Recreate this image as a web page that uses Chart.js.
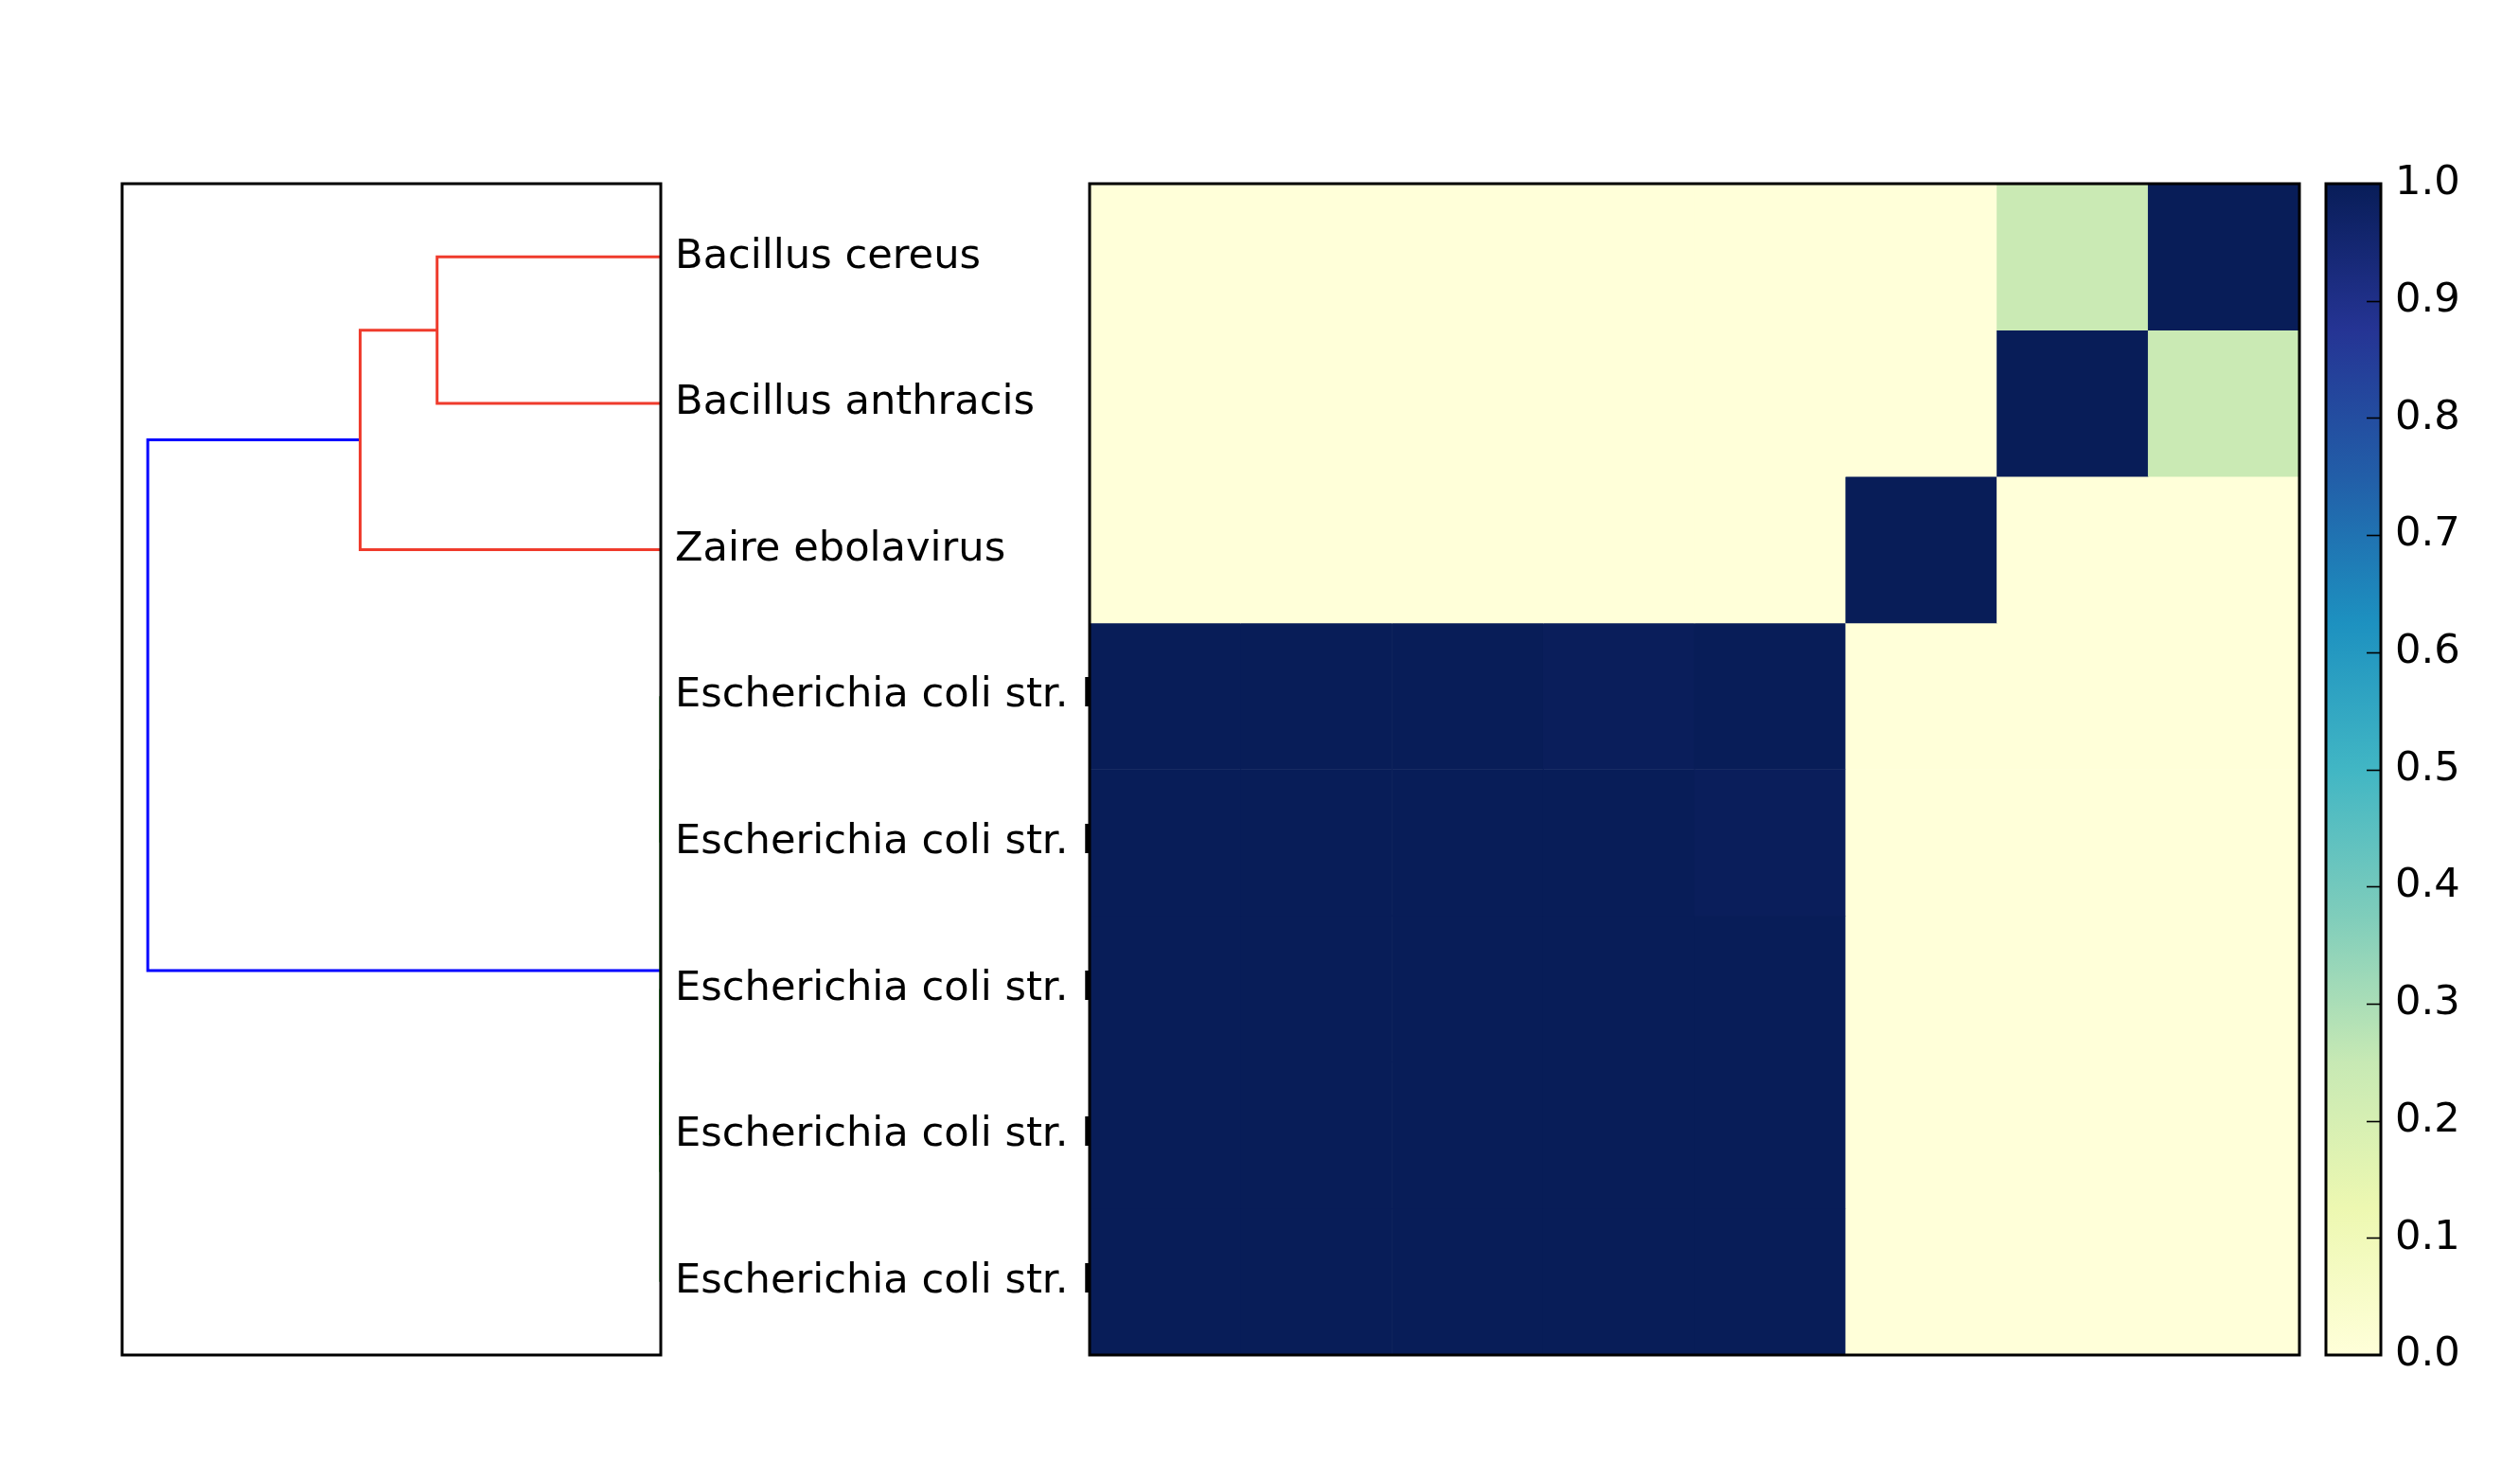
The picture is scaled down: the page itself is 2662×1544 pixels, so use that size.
<!DOCTYPE html>
<html>
<head>
<meta charset="utf-8">
<script src="https://cdn.jsdelivr.net/npm/chart.js@4.4.1/dist/chart.umd.min.js"></script>
<style>
  html, body { margin: 0; padding: 0; background: #ffffff; }
  body { width: 2662px; height: 1544px; position: relative; overflow: hidden; }
  canvas { position: absolute; top: 0; }
  #dendro { left: 0px; }
  #heat { left: 1140px; }
  #cbar { left: 2440px; }
</style>
</head>
<body>
<canvas id="dendro" width="1400" height="1544"></canvas>
<canvas id="heat" width="1300" height="1544"></canvas>
<canvas id="cbar" width="222" height="1544"></canvas>
<script>
// ---------------- data ----------------
const leafLabels = [
  "Bacillus cereus",
  "Bacillus anthracis",
  "Zaire ebolavirus",
  "Escherichia coli str. K-12 substr. MG1655",
  "Escherichia coli str. K-12 substr. DH10B",
  "Escherichia coli str. K-12 substr. W3110",
  "Escherichia coli str. K-12 substr. MDS42",
  "Escherichia coli str. K-12 substr. BW2952"
];
const leafPositions = [0.5, 1.5, 2.5, 3.5, 4.5, 5.5, 6.5, 7.5];

// dendrogram links (scipy-like dcoord / icoord, orientation left)
const linkDist = [
  [0, 0.436, 0.436, 0],
  [0.436, 0.586, 0.586, 0],
  [0, 0, 0, 0],
  [0, 0, 0, 0],
  [0, 0, 0, 0],
  [0, 0, 0, 0],
  [0.586, 1.0, 1.0, 0]
];
const linkPos = [
  [0.5, 0.5, 1.5, 1.5],
  [1.0, 1.0, 2.5, 2.5],
  [3.5, 3.5, 4.5, 4.5],
  [5.5, 5.5, 6.5, 6.5],
  [6.0, 6.0, 7.5, 7.5],
  [4.0, 4.0, 6.75, 6.75],
  [1.75, 1.75, 5.375, 5.375]
];
const linkColors = ["#ef3b2c", "#ef3b2c", "#008000", "#008000", "#008000", "#008000", "#0000ff"];

// heatmap rows (top to bottom), columns left to right
const rowBacillusCereus   = [0, 0, 0, 0, 0, 0, 0.24, 1];
const rowBacillusAnthracis= [0, 0, 0, 0, 0, 0, 1, 0.24];
const rowZaireEbolavirus  = [0, 0, 0, 0, 0, 1, 0, 0];
const rowEcoli1           = [1, 1, 1, 0.993, 1, 0, 0, 0];
const rowEcoli2           = [1, 1, 1, 1, 0.993, 0, 0, 0];
const rowEcoli3           = [1, 1, 1, 1, 1, 0, 0, 0];
const rowEcoli4           = [1, 1, 1, 1, 1, 0, 0, 0];
const rowEcoli5           = [1, 1, 1, 1, 1, 0, 0, 0];
const heatColumns = ["c1", "c2", "c3", "c4", "c5", "c6", "c7", "c8"];

// colorbar
const cbTickValues = [0.0, 0.1, 0.2, 0.3, 0.4, 0.5, 0.6, 0.7, 0.8, 0.9, 1.0];
const cbTickLabels = ["0.0", "0.1", "0.2", "0.3", "0.4", "0.5", "0.6", "0.7", "0.8", "0.9", "1.0"];

// YlGnBu colormap
const ylgnbuStops = ["#ffffd9", "#edf8b1", "#c7e9b4", "#7fcdbb", "#41b6c4", "#1d91c0", "#225ea8", "#253494", "#081d58"];

// ---------------- helpers ----------------
function hexToRgb(h) {
  return [parseInt(h.slice(1, 3), 16), parseInt(h.slice(3, 5), 16), parseInt(h.slice(5, 7), 16)];
}
function cmap(v) {
  v = Math.max(0, Math.min(1, v));
  const n = ylgnbuStops.length - 1;
  const p = v * n;
  const i = Math.min(Math.floor(p), n - 1);
  const t = p - i;
  const a = hexToRgb(ylgnbuStops[i]), b = hexToRgb(ylgnbuStops[i + 1]);
  const c = a.map((x, k) => Math.round(x + (b[k] - x) * t));
  return `rgb(${c[0]},${c[1]},${c[2]})`;
}

const FONT = { family: "'DejaVu Sans', sans-serif", size: 43.2 };

const frame = {
  id: 'frame',
  afterDatasetsDraw(chart) {
    const { ctx, chartArea: a } = chart;
    ctx.save();
    ctx.strokeStyle = '#000';
    ctx.lineWidth = 3;
    ctx.strokeRect(a.left, a.top, a.right - a.left, a.bottom - a.top);
    ctx.restore();
  }
};

Chart.defaults.font.family = FONT.family;
Chart.defaults.color = '#000';

// ---------------- dendrogram ----------------
const dendroDatasets = linkDist.map((d, i) => ({
  data: d.map((x, k) => ({ x: x, y: linkPos[i][k] })),
  showLine: true,
  borderColor: linkColors[i],
  borderWidth: 3,
  pointRadius: 0,
  tension: 0,
  fill: false
}));

new Chart(document.getElementById('dendro'), {
  type: 'scatter',
  data: { datasets: dendroDatasets },
  options: {
    responsive: false,
    animation: false,
    devicePixelRatio: 1,
    layout: { padding: { left: 129, top: 194, bottom: 113, right: 0 } },
    plugins: { legend: { display: false }, tooltip: { enabled: false } },
    scales: {
      x: { type: 'linear', min: 0, max: 1.05, reverse: true, display: false },
      y: {
        type: 'linear', min: 0, max: 8, reverse: true, position: 'right',
        grid: { display: false, drawTicks: false },
        border: { display: false },
        afterBuildTicks: (s) => { s.ticks = leafPositions.map(v => ({ value: v })); },
        afterFit: (s) => { s.width = 702; },
        ticks: {
          autoSkip: false,
          padding: 15,
          font: FONT,
          color: '#000',
          callback: (v, i) => leafLabels[i]
        }
      }
    }
  },
  plugins: [frame]
});

// ---------------- heatmap ----------------
const heatRows = [rowBacillusCereus, rowBacillusAnthracis, rowZaireEbolavirus, rowEcoli1, rowEcoli2, rowEcoli3, rowEcoli4, rowEcoli5];
const heatDatasets = heatRows.map((row) => ({
  data: row.map(() => 1),
  backgroundColor: (ctx) => cmap(row[ctx.dataIndex]),
  borderWidth: 0,
  barPercentage: 1.0,
  categoryPercentage: 1.0
}));

new Chart(document.getElementById('heat'), {
  type: 'bar',
  data: { labels: heatColumns, datasets: heatDatasets },
  options: {
    responsive: false,
    animation: false,
    devicePixelRatio: 1,
    layout: { padding: { left: 11, right: 11, top: 194, bottom: 113 } },
    plugins: { legend: { display: false }, tooltip: { enabled: false } },
    scales: {
      x: { stacked: true, display: false },
      y: { stacked: true, min: 0, max: 8, reverse: true, display: false }
    }
  },
  plugins: [frame]
});

// ---------------- colorbar ----------------
const cbTicksPlugin = {
  id: 'cbTicks',
  afterDatasetsDraw(chart) {
    const { ctx, chartArea: a } = chart;
    const ys = chart.scales.y;
    ctx.save();
    ctx.strokeStyle = '#000';
    ctx.lineWidth = 1.6;
    cbTickValues.forEach(v => {
      if (v <= 0 || v >= 1) return;
      const y = Math.round(ys.getPixelForValue(v)) + 0.5;
      ctx.beginPath();
      ctx.moveTo(a.right - 15, y);
      ctx.lineTo(a.right, y);
      ctx.stroke();
    });
    ctx.restore();
  }
};

new Chart(document.getElementById('cbar'), {
  type: 'bar',
  data: {
    labels: ['cb'],
    datasets: [{
      data: [[cbTickValues[0], cbTickValues[cbTickValues.length - 1]]],
      borderWidth: 0,
      barPercentage: 1.0,
      categoryPercentage: 1.0,
      backgroundColor: (ctx) => {
        const ch = ctx.chart;
        const a = ch.chartArea;
        if (!a) return ylgnbuStops[0];
        const g = ch.ctx.createLinearGradient(0, a.bottom, 0, a.top);
        ylgnbuStops.forEach((c, i) => g.addColorStop(i / (ylgnbuStops.length - 1), c));
        return g;
      }
    }]
  },
  options: {
    responsive: false,
    animation: false,
    devicePixelRatio: 1,
    layout: { padding: { left: 17, right: 0, top: 194, bottom: 113 } },
    plugins: { legend: { display: false }, tooltip: { enabled: false } },
    scales: {
      x: { display: false },
      y: {
        type: 'linear', min: 0, max: 1, position: 'right',
        grid: { display: false, drawTicks: false },
        border: { display: false },
        afterBuildTicks: (s) => { s.ticks = cbTickValues.map(v => ({ value: v })); },
        afterFit: (s) => { s.width = 147; },
        ticks: {
          autoSkip: false,
          padding: 15,
          font: FONT,
          color: '#000',
          callback: (v, i) => cbTickLabels[i]
        }
      }
    }
  },
  plugins: [cbTicksPlugin, frame]
});
</script>
</body>
</html>
